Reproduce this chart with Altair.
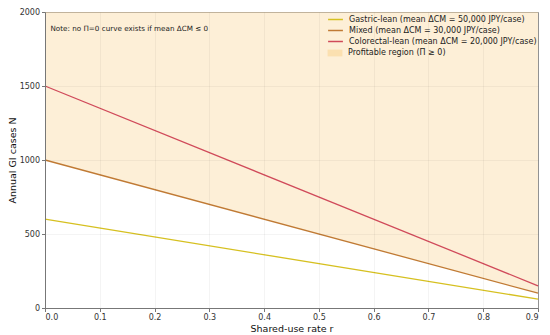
import altair as alt
import pandas as pd

r_vals = [0.0, 0.9]
series_names = [
    "Gastric-lean (mean ΔCM = 50,000 JPY/case)",
    "Mixed (mean ΔCM = 30,000 JPY/case)",
    "Colorectal-lean (mean ΔCM = 20,000 JPY/case)",
]
gastric_N = [600, 60]
mixed_N = [1000, 100]
colorectal_N = [1500, 150]
line_colors = ["#d6c020", "#c07a34", "#d04a5a"]
region_label = "Profitable region (Π ≥ 0)"
region_top = 2000
note_text = "Note: no Π=0 curve exists if mean ΔCM ≤ 0"

rows = []
for name, vals in zip(series_names, [gastric_N, mixed_N, colorectal_N]):
    for r, n in zip(r_vals, vals):
        rows.append({"r": r, "N": n, "series": name})
lines_df = pd.DataFrame(rows)

area_df = pd.DataFrame({"r": r_vals, "N": mixed_N, "top": [region_top] * len(r_vals),
                        "region": [region_label] * len(r_vals)})
note_df = pd.DataFrame({"r": [0.01], "N": [1885], "t": [note_text]})

xscale = alt.Scale(domain=[0, 0.9], nice=False, zero=False)
yscale = alt.Scale(domain=[0, 2000], nice=False)

xaxis = alt.Axis(values=[0, 0.1, 0.2, 0.3, 0.4, 0.5, 0.6, 0.7, 0.8, 0.9], format=".1f",
                 title="Shared-use rate r", titleFontSize=9.5, titleFontWeight="normal",
                 titlePadding=2, labelFontSize=8, tickSize=3.5, labelPadding=2,
                 zindex=1)
yaxis = alt.Axis(values=list(range(0, 2001, 250)), format="d", title="Annual GI cases N",
                 titleFontSize=9.5, titleFontWeight="normal", titlePadding=2,
                 labelFontSize=8, tickSize=3.5, labelPadding=2, zindex=1)

area = alt.Chart(area_df).mark_area(fillOpacity=0.5).encode(
    x=alt.X("r:Q", scale=xscale, axis=xaxis),
    y=alt.Y("N:Q", scale=yscale, axis=yaxis),
    y2="top:Q",
    fill=alt.Fill("region:N", scale=alt.Scale(domain=[region_label], range=["#fbe0b0"]),
                  legend=alt.Legend(title=None, orient="none", legendX=284, legendY=35,
                                    symbolType="M-1.3,-0.6H1.3V0.6H-1.3Z",
                                    symbolSize=130, labelFontSize=8,
                                    symbolStrokeWidth=0, symbolOpacity=1)),
)

lines = alt.Chart(lines_df).mark_line(strokeWidth=1.3).encode(
    x=alt.X("r:Q", scale=xscale),
    y=alt.Y("N:Q", scale=yscale),
    color=alt.Color("series:N", scale=alt.Scale(domain=series_names, range=line_colors),
                    legend=alt.Legend(title=None, orient="none", legendX=284, legendY=1,
                                      symbolType="M-1.3,0H1.3",
                                      symbolSize=130, symbolStrokeWidth=1.5,
                                      labelFontSize=8)),
)

note = alt.Chart(note_df).mark_text(align="left", baseline="middle", fontSize=7.2,
                                    color="#222").encode(
    x=alt.X("r:Q", scale=xscale), y=alt.Y("N:Q", scale=yscale), text="t:N")

chart = alt.layer(area, lines, note).resolve_legend(color="independent", fill="independent").properties(
    width=493, height=296,
    autosize=alt.AutoSizeParams(type="none"),
    padding={"left": 37, "top": 4, "right": 4, "bottom": 30},
).configure(font="DejaVu Sans").configure_axis(
    domainColor="#777", tickColor="#777", labelColor="#333", titleColor="#111",
    gridColor="#000", gridOpacity=0.06, gridWidth=0.8,
).configure_view(stroke="#999", strokeWidth=1).configure_legend(
    labelColor="#222", rowPadding=0, padding=0, labelLimit=400, labelOffset=7,
)

chart.save("out.html", embed_options={"renderer": "svg", "actions": False})
